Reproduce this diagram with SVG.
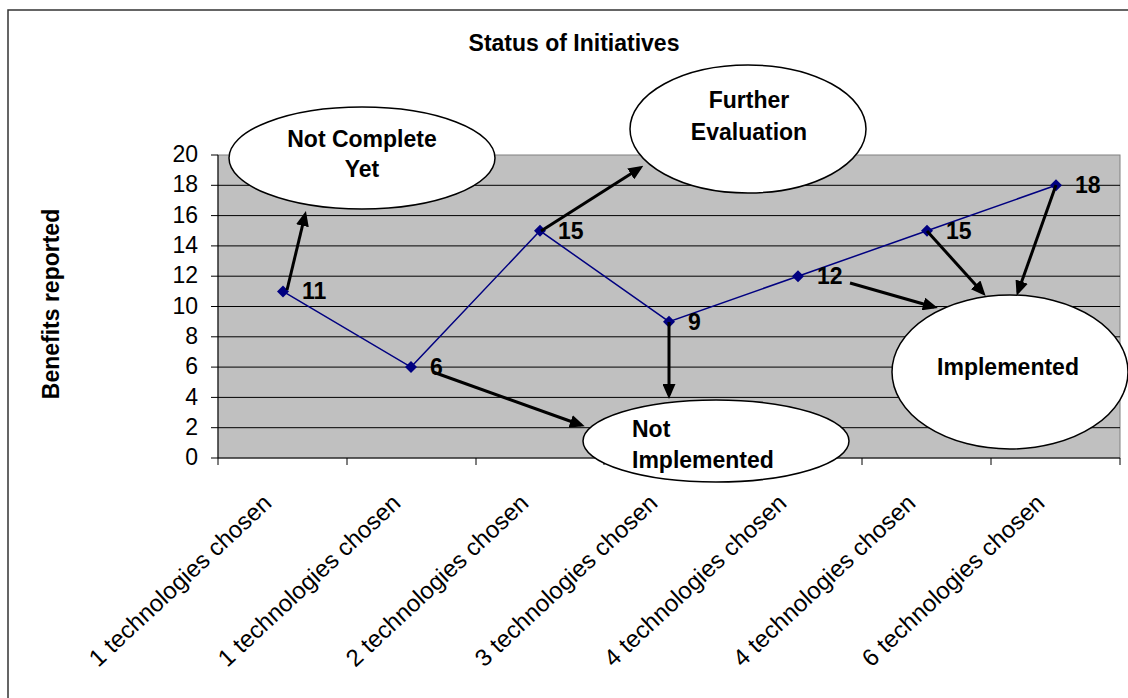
<svg xmlns="http://www.w3.org/2000/svg" width="1128" height="698" viewBox="0 0 1128 698">
<style>
text{font-family:"Liberation Sans",Arial,sans-serif;fill:#000}
.b{font-weight:bold}
.ylab{font-size:23px;text-anchor:end}
.xlab{font-size:24px;text-anchor:end}
.dl{font-size:23px;font-weight:bold}
.grid{stroke:#000;stroke-width:1}
.node ellipse{fill:#fff;stroke:#000;stroke-width:1.5}
.node text{font-size:23px;font-weight:bold}
.arrow{stroke:#000;stroke-width:3;fill:none;marker-end:url(#ah)}
.mk{fill:#000080}
</style>
<defs>
<marker id="ah" markerUnits="userSpaceOnUse" markerWidth="15" markerHeight="13" refX="11" refY="6.5" orient="auto">
<path d="M0,0 L15,6.5 L0,13 z" fill="#000"/>
</marker>
</defs>
<rect x="0" y="0" width="1128" height="698" fill="#fff"/>
<rect x="8" y="10" width="1130" height="700" fill="none" stroke="#333" stroke-width="1.5"/>
<text class="b" x="574" y="51" font-size="23" text-anchor="middle">Status of Initiatives</text>
<g id="chart">
<rect x="218" y="155" width="902" height="303" fill="#c0c0c0" stroke="#808080" stroke-width="1"/>
<g class="grid">
<line x1="218" y1="185.3" x2="1120" y2="185.3"/>
<line x1="218" y1="215.6" x2="1120" y2="215.6"/>
<line x1="218" y1="245.9" x2="1120" y2="245.9"/>
<line x1="218" y1="276.2" x2="1120" y2="276.2"/>
<line x1="218" y1="306.5" x2="1120" y2="306.5"/>
<line x1="218" y1="336.8" x2="1120" y2="336.8"/>
<line x1="218" y1="367.1" x2="1120" y2="367.1"/>
<line x1="218" y1="397.4" x2="1120" y2="397.4"/>
<line x1="218" y1="427.7" x2="1120" y2="427.7"/>
<line x1="218" y1="458" x2="1120" y2="458"/>
<line x1="218" y1="155" x2="218" y2="458"/>
<line x1="211" y1="155" x2="218" y2="155"/>
<line x1="211" y1="185.3" x2="218" y2="185.3"/>
<line x1="211" y1="215.6" x2="218" y2="215.6"/>
<line x1="211" y1="245.9" x2="218" y2="245.9"/>
<line x1="211" y1="276.2" x2="218" y2="276.2"/>
<line x1="211" y1="306.5" x2="218" y2="306.5"/>
<line x1="211" y1="336.8" x2="218" y2="336.8"/>
<line x1="211" y1="367.1" x2="218" y2="367.1"/>
<line x1="211" y1="397.4" x2="218" y2="397.4"/>
<line x1="211" y1="427.7" x2="218" y2="427.7"/>
<line x1="211" y1="458" x2="218" y2="458"/>
<line x1="218" y1="458" x2="218" y2="465"/>
<line x1="347" y1="458" x2="347" y2="465"/>
<line x1="476" y1="458" x2="476" y2="465"/>
<line x1="604" y1="458" x2="604" y2="465"/>
<line x1="733" y1="458" x2="733" y2="465"/>
<line x1="862" y1="458" x2="862" y2="465"/>
<line x1="991" y1="458" x2="991" y2="465"/>
<line x1="1120" y1="458" x2="1120" y2="465"/>
</g>
<g class="ylab">
<text x="198" y="162">20</text>
<text x="198" y="192">18</text>
<text x="198" y="223">16</text>
<text x="198" y="253">14</text>
<text x="198" y="283">12</text>
<text x="198" y="314">10</text>
<text x="198" y="344">8</text>
<text x="198" y="374">6</text>
<text x="198" y="405">4</text>
<text x="198" y="435">2</text>
<text x="198" y="465">0</text>
</g>
<text class="b" font-size="23" text-anchor="middle" transform="translate(59,304) rotate(-90)">Benefits reported</text>
<g class="xlab">
<text transform="translate(273,505) rotate(-43)">1 technologies chosen</text>
<text transform="translate(402,505) rotate(-43)">1 technologies chosen</text>
<text transform="translate(530,505) rotate(-43)">2 technologies chosen</text>
<text transform="translate(659,505) rotate(-43)">3 technologies chosen</text>
<text transform="translate(788,505) rotate(-43)">4 technologies chosen</text>
<text transform="translate(917,505) rotate(-43)">4 technologies chosen</text>
<text transform="translate(1046,505) rotate(-43)">6 technologies chosen</text>
</g>
<polyline points="283,291.4 411,367.1 540,230.8 669,321.7 798,276.2 927,230.8 1056,185.3" fill="none" stroke="#000080" stroke-width="1.5"/>
<g class="mk">
<path d="M283,285.4 L289,291.4 L283,297.4 L277,291.4 z"/>
<path d="M411,361.1 L417,367.1 L411,373.1 L405,367.1 z"/>
<path d="M540,224.8 L546,230.8 L540,236.8 L534,230.8 z"/>
<path d="M669,315.7 L675,321.7 L669,327.7 L663,321.7 z"/>
<path d="M798,270.2 L804,276.2 L798,282.2 L792,276.2 z"/>
<path d="M927,224.8 L933,230.8 L927,236.8 L921,230.8 z"/>
<path d="M1056,179.3 L1062,185.3 L1056,191.3 L1050,185.3 z"/>
</g>
<g>
<text class="dl" x="302" y="299">11</text>
<text class="dl" x="430" y="375">6</text>
<text class="dl" x="558" y="239">15</text>
<text class="dl" x="688" y="330">9</text>
<text class="dl" x="817" y="284">12</text>
<text class="dl" x="946" y="239">15</text>
<text class="dl" x="1075" y="193">18</text>
</g>
</g>
<g id="connectors">
<line class="arrow" x1="287" y1="290" x2="305" y2="215"/>
<line class="arrow" x1="433" y1="372" x2="581" y2="425"/>
<line class="arrow" x1="541" y1="231" x2="640" y2="168"/>
<line class="arrow" x1="669" y1="322" x2="669" y2="395"/>
<line class="arrow" x1="850" y1="283" x2="934" y2="307"/>
<line class="arrow" x1="927" y1="231" x2="983" y2="293"/>
<line class="arrow" x1="1056" y1="185" x2="1018" y2="292"/>
</g>
<g id="node-not-complete" class="node">
<ellipse cx="362" cy="158" rx="133" ry="51"/>
<text x="362" y="147" text-anchor="middle">Not Complete</text>
<text x="362" y="177" text-anchor="middle">Yet</text>
</g>
<g id="node-further-evaluation" class="node">
<ellipse cx="748" cy="129" rx="118" ry="64"/>
<text x="749" y="108" text-anchor="middle">Further</text>
<text x="749" y="140" text-anchor="middle">Evaluation</text>
</g>
<g id="node-not-implemented" class="node">
<ellipse cx="716" cy="441" rx="133" ry="41"/>
<text x="632" y="437">Not</text>
<text x="632" y="468">Implemented</text>
</g>
<g id="node-implemented" class="node">
<ellipse cx="1010" cy="372" rx="118" ry="77"/>
<text x="1008" y="375" text-anchor="middle">Implemented</text>
</g>
</svg>
